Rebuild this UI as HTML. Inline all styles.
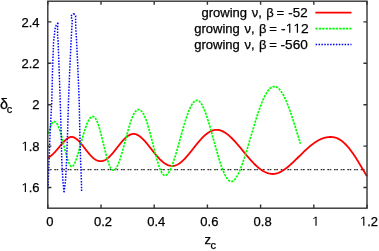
<!DOCTYPE html>
<html><head><meta charset="utf-8"><style>
html,body{margin:0;padding:0;background:#fff;width:379px;height:251px;overflow:hidden;font-family:"Liberation Sans",sans-serif;}
svg{display:block;will-change:transform}
</style></head><body>
<svg xmlns="http://www.w3.org/2000/svg" width="379" height="251" viewBox="0 0 379 251">
<rect width="379" height="251" fill="#fff"/>
<g font-family="Liberation Sans, sans-serif" font-size="13" fill="#000" stroke="#000" stroke-width="0.25">
<text x="21.53" y="192.10"> .6</text><path d="M515,0L515,1237L197,1010L197,1180L530,1409L696,1409L696,0Z" transform="matrix(0.00635,0,0,-0.00635,21.53,192.10)"/><text x="21.53" y="150.70"> .8</text><path d="M515,0L515,1237L197,1010L197,1180L530,1409L696,1409L696,0Z" transform="matrix(0.00635,0,0,-0.00635,21.53,150.70)"/><text x="32.37" y="109.30">2</text><text x="21.53" y="67.90">2.2</text><text x="21.53" y="26.50">2.4</text>
<text x="46.19" y="225.70">0</text><text x="93.96" y="225.70">0.2</text><text x="147.16" y="225.70">0.4</text><text x="200.36" y="225.70">0.6</text><text x="253.56" y="225.70">0.8</text><text x="312.19" y="225.70"> </text><path d="M515,0L515,1237L197,1010L197,1180L530,1409L696,1409L696,0Z" transform="matrix(0.00635,0,0,-0.00635,312.19,225.70)"/><text x="359.96" y="225.70"> .2</text><path d="M515,0L515,1237L197,1010L197,1180L530,1409L696,1409L696,0Z" transform="matrix(0.00635,0,0,-0.00635,359.96,225.70)"/>
<text x="-0.1" y="109.4" font-size="14.3">δ</text><text x="6.8" y="113.1" font-size="11">c</text>
<text x="204.4" y="244.2">z</text><text x="210.5" y="248.5" font-size="11">c</text>
<text y="17.1"><tspan x="201.50">growing</tspan><tspan x="251.75">ν</tspan><tspan x="258.30">,</tspan><tspan x="266.25">β</tspan><tspan x="276.40">=</tspan></text><text x="288.39" y="17.10" textLength="19.26" lengthAdjust="spacingAndGlyphs">-52</text>
<text y="32.8"><tspan x="194.25">growing</tspan><tspan x="244.50">ν</tspan><tspan x="251.05">,</tspan><tspan x="259.00">β</tspan><tspan x="269.15">=</tspan></text><text x="281.07" y="32.80" textLength="27.65" lengthAdjust="spacingAndGlyphs">-  2</text><path d="M515,0L515,1237L197,1010L197,1180L530,1409L696,1409L696,0Z" transform="matrix(0.00674,0,0,-0.00635,285.67,32.80)"/><path d="M515,0L515,1237L197,1010L197,1180L530,1409L696,1409L696,0Z" transform="matrix(0.00674,0,0,-0.00635,293.35,32.80)"/>
<text y="48.7"><tspan x="194.25">growing</tspan><tspan x="244.50">ν</tspan><tspan x="251.05">,</tspan><tspan x="259.00">β</tspan><tspan x="269.15">=</tspan></text><text x="280.58" y="48.70" textLength="27.16" lengthAdjust="spacingAndGlyphs">-560</text>
</g>
<g fill="none" stroke-width="1.8">
<path d="M47.6,169.6H367" stroke="#333" stroke-width="1.4" stroke-dasharray="1.7,0.6,1.7,2.66"/>
<path d="M48.09,157.73 L48.60,157.44 L49.10,157.12 L49.61,156.79 L50.11,156.43 L50.61,156.05 L51.12,155.66 L51.62,155.24 L52.13,154.80 L52.63,154.35 L53.14,153.87 L53.64,153.38 L54.15,152.87 L54.65,152.35 L55.15,151.81 L55.66,151.26 L56.16,150.69 L56.67,150.11 L57.17,149.53 L57.68,148.93 L58.18,148.33 L58.69,147.72 L59.19,147.11 L59.69,146.50 L60.20,145.89 L60.70,145.28 L61.21,144.68 L61.71,144.08 L62.22,143.50 L62.72,142.92 L63.22,142.36 L63.73,141.81 L64.23,141.28 L64.74,140.77 L65.24,140.29 L65.75,139.82 L66.25,139.39 L66.76,138.98 L67.26,138.61 L67.76,138.26 L68.27,137.95 L68.77,137.68 L69.28,137.45 L69.78,137.25 L70.29,137.10 L70.79,136.99 L71.30,136.92 L71.80,136.90 L72.31,136.94 L72.81,137.03 L73.32,137.17 L73.82,137.35 L74.33,137.58 L74.83,137.85 L75.34,138.15 L75.84,138.49 L76.35,138.87 L76.85,139.27 L77.36,139.71 L77.86,140.17 L78.37,140.66 L78.87,141.18 L79.38,141.71 L79.88,142.27 L80.39,142.84 L80.89,143.43 L81.40,144.04 L81.91,144.66 L82.41,145.29 L82.92,145.93 L83.42,146.57 L83.93,147.22 L84.43,147.88 L84.94,148.53 L85.44,149.19 L85.95,149.84 L86.45,150.49 L86.96,151.13 L87.46,151.76 L87.97,152.39 L88.47,153.00 L88.98,153.60 L89.48,154.19 L89.99,154.76 L90.49,155.32 L91.00,155.85 L91.51,156.37 L92.01,156.87 L92.52,157.34 L93.02,157.79 L93.53,158.21 L94.03,158.61 L94.54,158.99 L95.04,159.34 L95.55,159.65 L96.05,159.95 L96.56,160.21 L97.06,160.44 L97.57,160.64 L98.07,160.81 L98.58,160.95 L99.08,161.06 L99.59,161.14 L100.09,161.18 L100.60,161.20 L101.10,161.18 L101.61,161.14 L102.11,161.06 L102.61,160.95 L103.12,160.82 L103.62,160.65 L104.12,160.45 L104.62,160.22 L105.13,159.97 L105.63,159.68 L106.13,159.37 L106.64,159.03 L107.14,158.67 L107.64,158.28 L108.15,157.87 L108.65,157.43 L109.15,156.97 L109.65,156.49 L110.16,155.99 L110.66,155.47 L111.16,154.93 L111.67,154.38 L112.17,153.80 L112.67,153.22 L113.18,152.62 L113.68,152.01 L114.18,151.40 L114.68,150.77 L115.19,150.13 L115.69,149.49 L116.19,148.85 L116.70,148.20 L117.20,147.55 L117.70,146.90 L118.21,146.25 L118.71,145.61 L119.21,144.97 L119.72,144.33 L120.22,143.70 L120.72,143.09 L121.22,142.48 L121.73,141.88 L122.23,141.30 L122.73,140.72 L123.24,140.17 L123.74,139.63 L124.24,139.11 L124.75,138.61 L125.25,138.13 L125.75,137.67 L126.25,137.23 L126.76,136.82 L127.26,136.43 L127.76,136.07 L128.27,135.73 L128.77,135.42 L129.27,135.13 L129.78,134.88 L130.28,134.65 L130.78,134.45 L131.28,134.28 L131.79,134.15 L132.29,134.04 L132.79,133.96 L133.30,133.92 L133.80,133.90 L134.30,133.93 L134.81,134.00 L135.31,134.10 L135.81,134.25 L136.31,134.42 L136.82,134.63 L137.32,134.86 L137.82,135.12 L138.32,135.41 L138.83,135.73 L139.33,136.07 L139.83,136.44 L140.33,136.83 L140.84,137.24 L141.34,137.67 L141.84,138.12 L142.34,138.60 L142.85,139.09 L143.35,139.59 L143.85,140.12 L144.35,140.65 L144.86,141.21 L145.36,141.77 L145.86,142.35 L146.36,142.94 L146.87,143.53 L147.37,144.14 L147.87,144.75 L148.38,145.38 L148.88,146.00 L149.38,146.63 L149.88,147.27 L150.39,147.91 L150.89,148.55 L151.39,149.19 L151.89,149.83 L152.40,150.47 L152.90,151.10 L153.40,151.74 L153.90,152.37 L154.41,152.99 L154.91,153.61 L155.41,154.22 L155.91,154.83 L156.42,155.42 L156.92,156.01 L157.42,156.58 L157.92,157.15 L158.43,157.70 L158.93,158.24 L159.43,158.77 L159.94,159.28 L160.44,159.78 L160.94,160.26 L161.44,160.72 L161.95,161.17 L162.45,161.61 L162.95,162.02 L163.45,162.42 L163.96,162.79 L164.46,163.15 L164.96,163.49 L165.46,163.81 L165.97,164.11 L166.47,164.38 L166.97,164.64 L167.47,164.87 L167.98,165.09 L168.48,165.28 L168.98,165.45 L169.48,165.59 L169.99,165.72 L170.49,165.82 L170.99,165.90 L171.49,165.95 L172.00,165.99 L172.50,166.00 L173.00,165.98 L173.51,165.93 L174.01,165.85 L174.51,165.74 L175.02,165.60 L175.52,165.44 L176.02,165.26 L176.53,165.04 L177.03,164.81 L177.53,164.55 L178.04,164.27 L178.54,163.97 L179.04,163.64 L179.55,163.30 L180.05,162.93 L180.55,162.55 L181.06,162.14 L181.56,161.72 L182.06,161.28 L182.57,160.83 L183.07,160.36 L183.57,159.87 L184.08,159.37 L184.58,158.85 L185.09,158.32 L185.59,157.78 L186.09,157.23 L186.60,156.66 L187.10,156.09 L187.60,155.51 L188.11,154.91 L188.61,154.31 L189.11,153.71 L189.62,153.09 L190.12,152.48 L190.62,151.85 L191.13,151.22 L191.63,150.59 L192.13,149.96 L192.64,149.32 L193.14,148.69 L193.64,148.05 L194.15,147.42 L194.65,146.78 L195.15,146.15 L195.66,145.52 L196.16,144.90 L196.66,144.28 L197.17,143.66 L197.67,143.05 L198.17,142.45 L198.68,141.85 L199.18,141.26 L199.68,140.68 L200.19,140.11 L200.69,139.55 L201.19,139.00 L201.70,138.46 L202.20,137.94 L202.70,137.42 L203.21,136.92 L203.71,136.43 L204.21,135.96 L204.72,135.50 L205.22,135.05 L205.73,134.62 L206.23,134.21 L206.73,133.81 L207.24,133.43 L207.74,133.07 L208.24,132.72 L208.75,132.40 L209.25,132.09 L209.75,131.80 L210.26,131.53 L210.76,131.27 L211.26,131.04 L211.77,130.83 L212.27,130.63 L212.77,130.46 L213.28,130.30 L213.78,130.17 L214.28,130.06 L214.79,129.96 L215.29,129.89 L215.79,129.84 L216.30,129.81 L216.80,129.80 L217.30,129.81 L217.80,129.85 L218.31,129.92 L218.81,130.00 L219.31,130.11 L219.81,130.23 L220.31,130.38 L220.81,130.54 L221.32,130.73 L221.82,130.93 L222.32,131.15 L222.82,131.39 L223.32,131.64 L223.83,131.91 L224.33,132.20 L224.83,132.51 L225.33,132.83 L225.83,133.16 L226.33,133.51 L226.84,133.88 L227.34,134.26 L227.84,134.65 L228.34,135.06 L228.84,135.48 L229.34,135.92 L229.85,136.36 L230.35,136.82 L230.85,137.29 L231.35,137.77 L231.85,138.26 L232.36,138.76 L232.86,139.27 L233.36,139.79 L233.86,140.32 L234.36,140.85 L234.86,141.40 L235.37,141.95 L235.87,142.51 L236.37,143.08 L236.87,143.65 L237.37,144.23 L237.88,144.81 L238.38,145.40 L238.88,145.99 L239.38,146.58 L239.88,147.18 L240.38,147.79 L240.89,148.39 L241.39,149.00 L241.89,149.61 L242.39,150.22 L242.89,150.83 L243.39,151.44 L243.90,152.05 L244.40,152.66 L244.90,153.26 L245.40,153.87 L245.90,154.47 L246.41,155.08 L246.91,155.67 L247.41,156.27 L247.91,156.86 L248.41,157.45 L248.91,158.03 L249.42,158.61 L249.92,159.18 L250.42,159.75 L250.92,160.31 L251.42,160.86 L251.93,161.41 L252.43,161.95 L252.93,162.48 L253.43,163.00 L253.93,163.51 L254.43,164.02 L254.94,164.51 L255.44,165.00 L255.94,165.48 L256.44,165.94 L256.94,166.40 L257.44,166.84 L257.95,167.28 L258.45,167.70 L258.95,168.11 L259.45,168.51 L259.95,168.89 L260.46,169.27 L260.96,169.63 L261.46,169.98 L261.96,170.31 L262.46,170.63 L262.96,170.94 L263.47,171.23 L263.97,171.51 L264.47,171.78 L264.97,172.03 L265.47,172.26 L265.98,172.49 L266.48,172.69 L266.98,172.89 L267.48,173.06 L267.98,173.23 L268.48,173.37 L268.99,173.50 L269.49,173.62 L269.99,173.72 L270.49,173.81 L270.99,173.88 L271.49,173.93 L272.00,173.97 L272.50,173.99 L273.00,174.00 L273.50,173.98 L274.00,173.95 L274.50,173.89 L275.00,173.81 L275.50,173.71 L276.00,173.60 L276.50,173.47 L277.00,173.32 L277.50,173.16 L278.00,172.98 L278.50,172.79 L279.00,172.58 L279.50,172.36 L280.00,172.12 L280.50,171.87 L281.00,171.61 L281.50,171.34 L282.00,171.05 L282.50,170.75 L283.00,170.44 L283.50,170.12 L284.00,169.79 L284.50,169.45 L285.00,169.09 L285.50,168.73 L286.00,168.36 L286.50,167.98 L287.00,167.59 L287.50,167.19 L288.00,166.78 L288.50,166.37 L289.00,165.95 L289.50,165.52 L290.00,165.08 L290.50,164.64 L291.00,164.19 L291.50,163.74 L292.00,163.28 L292.50,162.82 L293.00,162.35 L293.50,161.88 L294.00,161.40 L294.50,160.92 L295.00,160.44 L295.50,159.96 L296.00,159.47 L296.50,158.98 L297.00,158.49 L297.50,157.99 L298.00,157.50 L298.50,157.01 L299.00,156.51 L299.50,156.02 L300.00,155.52 L300.50,155.03 L301.00,154.54 L301.50,154.05 L302.00,153.56 L302.50,153.07 L303.00,152.59 L303.50,152.11 L304.00,151.63 L304.50,151.15 L305.00,150.68 L305.50,150.21 L306.00,149.75 L306.50,149.29 L307.00,148.83 L307.50,148.39 L308.00,147.94 L308.50,147.50 L309.00,147.07 L309.50,146.65 L310.00,146.23 L310.50,145.81 L311.00,145.41 L311.50,145.01 L312.00,144.62 L312.50,144.23 L313.00,143.86 L313.50,143.49 L314.00,143.13 L314.50,142.78 L315.00,142.44 L315.50,142.11 L316.00,141.78 L316.50,141.47 L317.00,141.16 L317.50,140.87 L318.00,140.58 L318.50,140.31 L319.00,140.05 L319.50,139.79 L320.00,139.55 L320.50,139.31 L321.00,139.09 L321.50,138.88 L322.00,138.68 L322.50,138.49 L323.00,138.31 L323.50,138.14 L324.00,137.98 L324.50,137.84 L325.00,137.71 L325.50,137.58 L326.00,137.47 L326.50,137.37 L327.00,137.29 L327.50,137.21 L328.00,137.15 L328.50,137.09 L329.00,137.05 L329.50,137.02 L330.00,137.01 L330.50,137.00 L331.00,137.00 L331.50,137.02 L332.00,137.05 L332.50,137.09 L333.00,137.15 L333.50,137.22 L334.00,137.31 L334.50,137.42 L335.00,137.54 L335.50,137.68 L336.00,137.84 L336.50,138.02 L337.00,138.21 L337.50,138.42 L338.00,138.65 L338.50,138.89 L339.00,139.16 L339.50,139.44 L340.00,139.74 L340.50,140.06 L341.00,140.40 L341.50,140.76 L342.00,141.13 L342.50,141.52 L343.00,141.93 L343.50,142.36 L344.00,142.81 L344.50,143.27 L345.00,143.75 L345.50,144.25 L346.00,144.76 L346.50,145.29 L347.00,145.84 L347.50,146.40 L348.00,146.98 L348.50,147.58 L349.00,148.19 L349.50,148.81 L350.00,149.45 L350.50,150.11 L351.00,150.77 L351.50,151.45 L352.00,152.15 L352.50,152.85 L353.00,153.57 L353.50,154.30 L354.00,155.04 L354.50,155.79 L355.00,156.55 L355.50,157.32 L356.00,158.10 L356.50,158.88 L357.00,159.68 L357.50,160.48 L358.00,161.29 L358.50,162.11 L359.00,162.93 L359.50,163.76 L360.00,164.59 L360.50,165.42 L361.00,166.26 L361.50,167.10 L362.00,167.94 L362.50,168.78 L363.00,169.63 L363.50,170.47 L364.00,171.32 L364.50,172.16 L365.00,173.00 L365.50,173.84 L366.00,174.67 L366.50,175.50 L367.00,176.32" stroke="#f00"/>
<path d="M48.50,133.79 L49.00,131.83 L49.50,130.00 L50.00,128.31 L50.50,126.78 L51.00,125.42 L51.50,124.25 L52.00,123.27 L52.50,122.50 L53.00,121.95 L53.50,121.61 L54.00,121.50 L54.50,121.54 L55.00,121.70 L55.50,121.99 L56.00,122.41 L56.50,122.98 L57.00,123.69 L57.50,124.55 L58.00,125.55 L58.50,126.69 L59.00,127.97 L59.50,129.37 L60.00,130.89 L60.50,132.53 L61.00,134.26 L61.50,136.08 L62.00,137.97 L62.50,139.92 L63.00,141.92 L63.50,143.94 L64.00,145.97 L64.50,148.00 L65.00,150.00 L65.50,151.97 L66.00,153.87 L66.50,155.70 L67.00,157.44 L67.50,159.07 L68.00,160.58 L68.50,161.95 L69.00,163.16 L69.50,164.22 L70.00,165.10 L70.50,165.79 L71.00,166.29 L71.50,166.60 L72.00,166.70 L72.51,166.50 L73.02,166.05 L73.53,165.39 L74.04,164.55 L74.55,163.56 L75.06,162.42 L75.57,161.16 L76.08,159.78 L76.59,158.31 L77.10,156.75 L77.61,155.11 L78.12,153.40 L78.63,151.64 L79.14,149.84 L79.65,148.01 L80.16,146.16 L80.67,144.30 L81.18,142.44 L81.69,140.58 L82.20,138.75 L82.70,136.94 L83.21,135.17 L83.72,133.44 L84.23,131.76 L84.74,130.14 L85.25,128.59 L85.76,127.11 L86.27,125.71 L86.78,124.40 L87.29,123.17 L87.80,122.04 L88.31,121.00 L88.82,120.07 L89.33,119.24 L89.84,118.51 L90.35,117.90 L90.86,117.39 L91.37,117.00 L91.88,116.72 L92.39,116.56 L92.90,116.50 L93.40,116.57 L93.90,116.78 L94.40,117.13 L94.90,117.64 L95.40,118.29 L95.90,119.08 L96.40,120.01 L96.90,121.08 L97.40,122.28 L97.90,123.60 L98.40,125.04 L98.90,126.59 L99.40,128.24 L99.90,129.98 L100.40,131.80 L100.90,133.69 L101.40,135.63 L101.90,137.63 L102.40,139.67 L102.90,141.72 L103.40,143.79 L103.90,145.86 L104.40,147.91 L104.90,149.94 L105.40,151.94 L105.90,153.88 L106.40,155.76 L106.90,157.57 L107.40,159.29 L107.90,160.92 L108.40,162.44 L108.90,163.85 L109.40,165.14 L109.90,166.29 L110.40,167.31 L110.90,168.18 L111.40,168.90 L111.90,169.47 L112.40,169.87 L112.90,170.12 L113.40,170.20 L113.91,170.12 L114.42,169.88 L114.92,169.50 L115.43,168.99 L115.94,168.36 L116.45,167.59 L116.96,166.71 L117.47,165.72 L117.97,164.62 L118.48,163.41 L118.99,162.11 L119.50,160.72 L120.01,159.25 L120.51,157.70 L121.02,156.08 L121.53,154.39 L122.04,152.65 L122.55,150.87 L123.06,149.04 L123.56,147.18 L124.07,145.29 L124.58,143.38 L125.09,141.46 L125.60,139.54 L126.10,137.63 L126.61,135.72 L127.12,133.84 L127.63,131.98 L128.14,130.16 L128.64,128.38 L129.15,126.64 L129.66,124.96 L130.17,123.34 L130.68,121.79 L131.19,120.31 L131.69,118.91 L132.20,117.59 L132.71,116.35 L133.22,115.21 L133.73,114.17 L134.23,113.23 L134.74,112.39 L135.25,111.66 L135.76,111.03 L136.27,110.52 L136.78,110.12 L137.28,109.83 L137.79,109.66 L138.30,109.60 L138.81,109.63 L139.31,109.73 L139.82,109.91 L140.32,110.17 L140.83,110.53 L141.33,110.99 L141.84,111.54 L142.35,112.18 L142.85,112.93 L143.36,113.77 L143.86,114.71 L144.37,115.75 L144.87,116.87 L145.38,118.09 L145.88,119.40 L146.39,120.80 L146.90,122.27 L147.40,123.82 L147.91,125.45 L148.41,127.14 L148.92,128.89 L149.42,130.70 L149.93,132.56 L150.44,134.46 L150.94,136.40 L151.45,138.37 L151.95,140.36 L152.46,142.37 L152.96,144.38 L153.47,146.40 L153.98,148.40 L154.48,150.39 L154.99,152.35 L155.49,154.28 L156.00,156.18 L156.50,158.02 L157.01,159.81 L157.52,161.53 L158.02,163.19 L158.53,164.76 L159.03,166.25 L159.54,167.65 L160.04,168.96 L160.55,170.15 L161.05,171.24 L161.56,172.22 L162.07,173.07 L162.57,173.81 L163.08,174.41 L163.58,174.88 L164.09,175.23 L164.59,175.43 L165.10,175.50 L165.61,175.43 L166.11,175.23 L166.62,174.91 L167.13,174.49 L167.63,173.96 L168.14,173.33 L168.64,172.61 L169.15,171.80 L169.66,170.90 L170.16,169.91 L170.67,168.84 L171.18,167.69 L171.68,166.47 L172.19,165.18 L172.70,163.82 L173.20,162.40 L173.71,160.92 L174.21,159.39 L174.72,157.81 L175.23,156.18 L175.73,154.51 L176.24,152.81 L176.75,151.07 L177.25,149.30 L177.76,147.51 L178.27,145.70 L178.77,143.87 L179.28,142.03 L179.78,140.19 L180.29,138.34 L180.80,136.50 L181.30,134.66 L181.81,132.84 L182.32,131.03 L182.82,129.24 L183.33,127.47 L183.83,125.73 L184.34,124.02 L184.85,122.34 L185.35,120.71 L185.86,119.11 L186.37,117.57 L186.87,116.07 L187.38,114.62 L187.89,113.23 L188.39,111.90 L188.90,110.63 L189.40,109.42 L189.91,108.28 L190.42,107.21 L190.92,106.21 L191.43,105.28 L191.94,104.43 L192.44,103.65 L192.95,102.96 L193.46,102.34 L193.96,101.80 L194.47,101.34 L194.97,100.97 L195.48,100.68 L195.99,100.47 L196.49,100.34 L197.00,100.30 L197.50,100.35 L198.00,100.51 L198.50,100.75 L199.00,101.09 L199.50,101.51 L200.00,102.03 L200.50,102.62 L201.00,103.31 L201.50,104.07 L202.00,104.90 L202.50,105.82 L203.00,106.81 L203.50,107.87 L204.00,109.00 L204.50,110.19 L205.00,111.45 L205.50,112.77 L206.00,114.15 L206.50,115.58 L207.00,117.06 L207.50,118.59 L208.00,120.16 L208.50,121.77 L209.00,123.43 L209.50,125.11 L210.00,126.83 L210.50,128.58 L211.00,130.35 L211.50,132.13 L212.00,133.94 L212.50,135.76 L213.00,137.58 L213.50,139.42 L214.00,141.25 L214.50,143.08 L215.00,144.90 L215.50,146.72 L216.00,148.52 L216.50,150.31 L217.00,152.07 L217.50,153.81 L218.00,155.53 L218.50,157.21 L219.00,158.86 L219.50,160.47 L220.00,162.04 L220.50,163.57 L221.00,165.06 L221.50,166.49 L222.00,167.87 L222.50,169.20 L223.00,170.47 L223.50,171.68 L224.00,172.83 L224.50,173.91 L225.00,174.93 L225.50,175.88 L226.00,176.76 L226.50,177.57 L227.00,178.31 L227.50,178.98 L228.00,179.56 L228.50,180.07 L229.00,180.51 L229.50,180.86 L230.00,181.14 L230.50,181.34 L231.00,181.46 L231.50,181.50 L232.00,181.43 L232.51,181.26 L233.01,181.00 L233.51,180.65 L234.02,180.22 L234.52,179.71 L235.02,179.13 L235.53,178.47 L236.03,177.75 L236.54,176.97 L237.04,176.12 L237.54,175.20 L238.05,174.23 L238.55,173.21 L239.05,172.13 L239.56,170.99 L240.06,169.81 L240.56,168.58 L241.07,167.30 L241.57,165.98 L242.07,164.62 L242.58,163.21 L243.08,161.78 L243.58,160.30 L244.09,158.80 L244.59,157.27 L245.10,155.70 L245.60,154.12 L246.10,152.51 L246.61,150.88 L247.11,149.23 L247.61,147.56 L248.12,145.88 L248.62,144.19 L249.12,142.49 L249.63,140.78 L250.13,139.06 L250.63,137.35 L251.14,135.63 L251.64,133.91 L252.14,132.20 L252.65,130.50 L253.15,128.80 L253.66,127.11 L254.16,125.43 L254.66,123.77 L255.17,122.12 L255.67,120.49 L256.17,118.88 L256.68,117.30 L257.18,115.73 L257.68,114.19 L258.19,112.68 L258.69,111.20 L259.19,109.75 L259.70,108.33 L260.20,106.94 L260.70,105.59 L261.21,104.28 L261.71,103.00 L262.22,101.76 L262.72,100.57 L263.22,99.42 L263.73,98.31 L264.23,97.24 L264.73,96.22 L265.24,95.24 L265.74,94.32 L266.24,93.44 L266.75,92.61 L267.25,91.83 L267.75,91.11 L268.26,90.43 L268.76,89.81 L269.26,89.24 L269.77,88.72 L270.27,88.25 L270.78,87.84 L271.28,87.49 L271.78,87.19 L272.29,86.94 L272.79,86.75 L273.29,86.61 L273.80,86.53 L274.30,86.50 L274.80,86.53 L275.30,86.61 L275.81,86.74 L276.31,86.93 L276.81,87.18 L277.31,87.48 L277.81,87.83 L278.32,88.23 L278.82,88.69 L279.32,89.20 L279.82,89.76 L280.33,90.37 L280.83,91.03 L281.33,91.74 L281.83,92.50 L282.33,93.30 L282.84,94.16 L283.34,95.06 L283.84,96.00 L284.34,96.99 L284.84,98.02 L285.35,99.10 L285.85,100.21 L286.35,101.36 L286.85,102.56 L287.35,103.78 L287.86,105.05 L288.36,106.35 L288.86,107.68 L289.36,109.04 L289.87,110.43 L290.37,111.85 L290.87,113.30 L291.37,114.77 L291.87,116.27 L292.38,117.78 L292.88,119.32 L293.38,120.88 L293.88,122.45 L294.38,124.04 L294.89,125.64 L295.39,127.25 L295.89,128.87 L296.39,130.50 L296.89,132.14 L297.40,133.78 L297.90,135.43 L298.40,137.07 L298.90,138.72 L299.41,140.36 L299.91,142.00 L300.41,143.63" stroke="#0f0" stroke-width="1.7" stroke-dasharray="2.3,1.1"/>
<path d="M48.20,188.50 L48.30,181.00 L49.00,161.00 L50.20,131.00 L51.80,101.00 L52.50,71.00 L53.60,41.00 L54.40,35.50 L54.80,30.30 L55.40,27.50 L56.20,25.30 L58.00,22.80 M58.00,22.80 L57.60,28.00 L57.60,35.50 L58.10,41.00 L59.20,71.00 L60.20,101.00 L61.10,131.00 L61.80,161.00 L62.90,181.00 L64.00,192.30 M64.00,192.30 L65.50,181.00 L66.60,161.00 L67.60,131.00 L68.50,101.00 L69.70,71.00 L71.10,41.00 L72.00,25.00 L72.30,19.50 L70.80,16.20 L73.60,13.60 M73.60,13.60 L75.60,15.80 L75.60,20.00 L75.80,28.00 L76.60,41.00 L78.00,71.00 L79.20,101.00 L79.80,131.00 L80.60,161.00 L81.40,181.00 L81.60,191.30" stroke="#00f" stroke-width="1.5" stroke-dasharray="1.5,1.4"/>
<path d="M315.4,12.6H351.5" stroke="#f00"/>
<path d="M315.4,28.6H351.5" stroke="#0f0" stroke-width="1.7" stroke-dasharray="2.3,1.1"/>
<path d="M315.6,44.6H351.5" stroke="#00f" stroke-width="1.5" stroke-dasharray="1.5,1.4"/>
</g>
<g stroke="#333" stroke-width="1.4" fill="none">
<rect x="47.8" y="1.2" width="319.20" height="207.00"/>
<path d="M47.8,187.50h3.6M367.0,187.50h-3.6M47.8,146.10h3.6M367.0,146.10h-3.6M47.8,104.70h3.6M367.0,104.70h-3.6M47.8,63.30h3.6M367.0,63.30h-3.6M47.8,21.90h3.6M367.0,21.90h-3.6M47.8,-19.50h3.6M367.0,-19.50h-3.6M47.80,208.2v-3.6M47.80,1.2v3.6M101.00,208.2v-3.6M101.00,1.2v3.6M154.20,208.2v-3.6M154.20,1.2v3.6M207.40,208.2v-3.6M207.40,1.2v3.6M260.60,208.2v-3.6M260.60,1.2v3.6M313.80,208.2v-3.6M313.80,1.2v3.6M367.00,208.2v-3.6M367.00,1.2v3.6"/>
</g>
</svg>
</body></html>
